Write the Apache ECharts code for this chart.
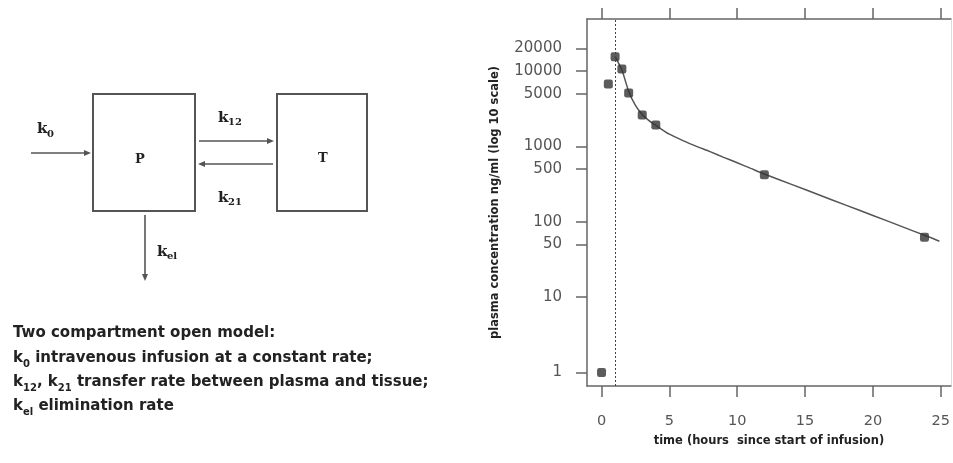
<!DOCTYPE html>
<html>
<head>
<meta charset="utf-8">
<script src="https://cdn.jsdelivr.net/npm/echarts@6/dist/echarts.min.js"></script>
<style>
  html, body { margin: 0; padding: 0; background: #fff; }
  #chart { width: 953px; height: 463px; }
</style>
</head>
<body>
<div id="chart"></div>
<script>
// Observed plasma concentrations (ng/ml) against time since infusion start (h)
const obsTime = [0, 0.5, 1, 1.5, 2, 3, 4, 12, 23.8];
const obsConc = [1, 6700, 15500, 10600, 5100, 2600, 1920, 420, 62];

// Fitted two-compartment curve after the end of infusion
const fitTime = [1, 1.5, 2, 2.5, 3, 3.5, 4, 5, 6, 7, 8, 9, 10, 11, 12, 14, 16, 18, 20, 22, 24, 24.9];
const fitConc = [15500, 10300, 5400, 3500, 2650, 2200, 1900, 1450, 1190, 1000, 850, 715, 605, 510, 430, 313, 228, 166, 121, 88, 64, 55];

// End of infusion (h)
const infusionEnd = 1;

// Axis ticks
const xTicks = [0, 5, 10, 15, 20, 25];
const yTicks = [1, 10, 50, 100, 500, 1000, 5000, 10000, 20000];

const chart = echarts.init(document.getElementById('chart'), null, { renderer: 'canvas' });

const ink = '#555';
const serif = '"DejaVu Serif", "Liberation Serif", serif';
const sans = '"DejaVu Sans", "Liberation Sans", sans-serif';

// Arrow helpers for the compartment diagram
function line(x1, y1, x2, y2) {
  return { type: 'line', shape: { x1, y1, x2, y2 }, style: { stroke: ink, lineWidth: 1.6 } };
}
function head(tx, ty, dir) {
  const L = 7, W = 3;
  let pts;
  if (dir === 'right') pts = [[tx, ty], [tx - L, ty - W], [tx - L, ty + W]];
  else if (dir === 'left') pts = [[tx, ty], [tx + L, ty - W], [tx + L, ty + W]];
  else pts = [[tx, ty], [tx - W, ty - L], [tx + W, ty - L]];
  return { type: 'polygon', shape: { points: pts }, style: { fill: ink } };
}
function txt(x, y, s, size, font) {
  return {
    type: 'text', x, y,
    style: { text: s, font: 'bold ' + size + 'px ' + font, fill: '#222', verticalAlign: 'middle' }
  };
}
function richLine(y, s) {
  return {
    type: 'text', x: 13, y,
    style: {
      text: s, verticalAlign: 'middle', fill: '#222',
      rich: {
        m: { fontFamily: sans, fontWeight: 'bold', fontSize: 15, lineHeight: 22, fill: '#222' },
        s: { fontFamily: sans, fontWeight: 'bold', fontSize: 10, lineHeight: 22, verticalAlign: 'bottom', fill: '#222' }
      }
    }
  };
}

const diagram = [
  // compartments
  { type: 'rect', shape: { x: 93, y: 94, width: 102, height: 117 }, style: { fill: 'none', stroke: ink, lineWidth: 2 } },
  { type: 'rect', shape: { x: 277, y: 94, width: 90, height: 117 }, style: { fill: 'none', stroke: ink, lineWidth: 2 } },
  txt(135, 160, 'P', 13, serif),
  txt(318, 159, 'T', 13, serif),
  // infusion in
  line(31, 153, 86, 153), head(91, 153, 'right'),
  txt(37, 129, 'k', 15, serif), txt(47, 134.5, '0', 10, serif),
  // plasma -> tissue
  line(199, 141, 268, 141), head(274, 141, 'right'),
  txt(218, 118, 'k', 15, serif), txt(228, 122.5, '12', 10, serif),
  // tissue -> plasma
  line(204, 164, 273, 164), head(198, 164, 'left'),
  txt(218, 198, 'k', 15, serif), txt(228, 202.5, '21', 10, serif),
  // elimination
  line(145, 215, 145, 276), head(145, 281, 'down'),
  txt(157, 252, 'k', 15, serif), txt(167, 256.5, 'el', 10, serif),
  // legend text
  richLine(333, '{m|Two compartment open model:}'),
  richLine(358, '{m|k}{s|0}{m| intravenous infusion at a constant rate;}'),
  richLine(382.5, '{m|k}{s|12}{m|, k}{s|21}{m| transfer rate between plasma and tissue;}'),
  richLine(406.5, '{m|k}{s|el}{m| elimination rate}')
];

const xMin = -1.07, xMax = 25.74;
const yMin = 0.66, yMax = 49000;

const xBase = {
  type: 'value', min: xMin, max: xMax,
  splitLine: { show: false },
  axisLine: { show: true, onZero: false, lineStyle: { color: '#666', width: 1.5 } },
  axisTick: { show: true, length: 11, customValues: xTicks, lineStyle: { color: '#666', width: 1.5 } }
};

chart.setOption({
  animation: false,
  backgroundColor: '#fff',
  grid: { left: 587, right: 2, top: 19, bottom: 77, containLabel: false },
  xAxis: [
    Object.assign({}, xBase, {
      position: 'bottom',
      name: 'time (hours  since start of infusion)',
      nameLocation: 'middle', nameGap: 49,
      nameTextStyle: { fontFamily: sans, fontWeight: 'bold', fontSize: 11.5, color: '#222' },
      axisLabel: { customValues: xTicks, margin: 28, fontFamily: sans, fontSize: 14.5, color: '#555' }
    }),
    Object.assign({}, xBase, { position: 'top', axisLabel: { show: false } })
  ],
  yAxis: [
    {
      type: 'log', logBase: 10, min: yMin, max: yMax, position: 'left',
      name: 'plasma concentration ng/ml (log 10 scale)',
      nameLocation: 'middle', nameGap: 86, nameRotate: 90,
      nameTextStyle: { fontFamily: sans, fontWeight: 'bold', fontSize: 11.5, color: '#222' },
      splitLine: { show: false },
      axisLine: { show: true, onZero: false, lineStyle: { color: '#666', width: 1.5 } },
      axisTick: { show: true, length: 11, customValues: yTicks, lineStyle: { color: '#666', width: 1.5 } },
      axisLabel: {
        customValues: yTicks, margin: 25, fontFamily: sans, fontSize: 15, color: '#555',
        formatter: v => String(Math.round(v))
      }
    },
    {
      type: 'log', logBase: 10, min: yMin, max: yMax, position: 'right',
      splitLine: { show: false },
      axisLine: { show: true, onZero: false, lineStyle: { color: '#ddd', width: 1 } },
      axisTick: { show: false }, axisLabel: { show: false }
    }
  ],
  series: [
    {
      name: 'fit', type: 'line', xAxisIndex: 0, yAxisIndex: 0,
      data: fitTime.map((t, i) => [t, fitConc[i]]),
      smooth: 0.25, showSymbol: false, symbol: 'none',
      lineStyle: { color: '#555', width: 1.5 },
      markLine: {
        silent: true, symbol: 'none', label: { show: false },
        lineStyle: { color: '#444', width: 1, type: [2, 2] },
        data: [{ xAxis: infusionEnd }]
      },
      z: 2
    },
    {
      name: 'observed', type: 'scatter', xAxisIndex: 0, yAxisIndex: 0,
      data: obsTime.map((t, i) => [t, obsConc[i]]),
      symbol: 'roundRect', symbolSize: 9,
      itemStyle: { color: '#333' },
      z: 3
    }
  ],
  graphic: diagram
});
</script>
</body>
</html>
